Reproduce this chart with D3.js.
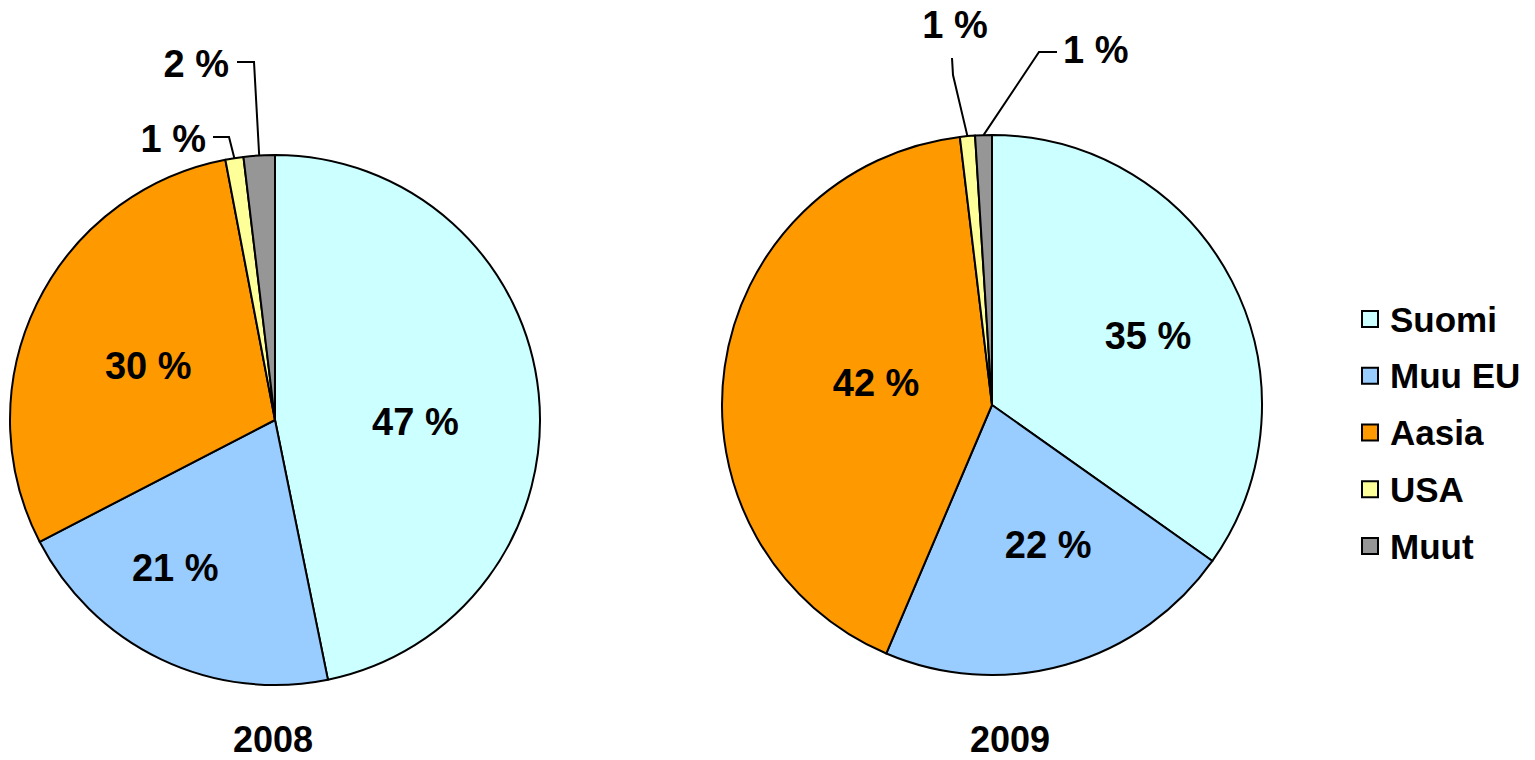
<!DOCTYPE html>
<html lang="fi">
  <head>
    <meta charset="UTF-8" />
    <title>Pie 2008 / 2009</title>
    <style>
      body { margin: 0; background: #fff; }
      text { font-family: Arial, "Liberation Sans", sans-serif; font-weight: bold; fill: #000; }
    </style>
    <script src="https://d3js.org/d3.v7.min.js"></script>
  </head>
  <body>
    <svg width="1535" height="760"></svg>
    <script>
      var categories = ["Suomi", "Muu EU", "Aasia", "USA", "Muut"];
      var colors = ["#CCFFFF", "#99CCFF", "#FF9900", "#FFFF99", "#969696"];
      var values2008 = [46.8, 20.6, 29.6, 1.1, 1.9];
      var values2009 = [34.8, 21.6, 41.7, 0.9, 1.0];
      var years = ["2008", "2009"];

      var svg = d3.select("svg");

      var pies = [
        { year: years[0], values: values2008, cx: 275, cy: 420, r: 265, titleX: 273,
          // inside labels: [radius fraction, angle nudge in degrees]
          inside: [[0.53, 6.6], [0.674, 8.4], [0.52, -2.9]],
          // leader lines for the thin slices: [elbow, end], text pos, anchor
          outside: {
            3: { pts: [[-46, -283], [-62, -283]], tx: -69, ty: -268, anchor: "end" },
            4: { pts: [[-21, -358], [-38, -358]], tx: -46, ty: -343, anchor: "end" }
          } },
        { year: years[1], values: values2009, cx: 992, cy: 405, r: 270, titleX: 1010,
          inside: [[0.632, 3.5], [0.559, -6], [0.437, 2.6]],
          outside: {
            3: { pts: [[-39, -330], [-40, -347]], tx: -37, ty: -367, anchor: "middle" },
            4: { pts: [[47, -353], [65, -353]], tx: 71, ty: -342, anchor: "start" }
          } }
      ];

      var pie = d3.pie().sort(null).value((d) => d);

      pies.forEach(function (p) {
        var g = svg.append("g").attr("transform", "translate(" + p.cx + "," + p.cy + ")");
        var arcs = pie(p.values);
        var arc = d3.arc().innerRadius(0).outerRadius(p.r);

        g.selectAll("path")
          .data(arcs)
          .join("path")
          .attr("d", arc)
          .attr("fill", (d, i) => colors[i])
          .attr("stroke", "#000")
          .attr("stroke-width", 2)
          .attr("stroke-linejoin", "round");

        arcs.forEach(function (a, i) {
          var txt = Math.round(a.data) + " %";
          var mid = (a.startAngle + a.endAngle) / 2;
          var o = p.outside[i];
          if (o) {
            var start = [Math.sin(mid) * p.r, -Math.cos(mid) * p.r];
            g.append("path")
              .attr("d", d3.line()([start].concat(o.pts)))
              .attr("fill", "none")
              .attr("stroke", "#000")
              .attr("stroke-width", 2);
            g.append("text")
              .attr("x", o.tx)
              .attr("y", o.ty)
              .attr("text-anchor", o.anchor)
              .attr("font-size", 38)
              .text(txt);
          } else {
            var lr = p.inside[i][0] * p.r;
            var la = mid + (p.inside[i][1] * Math.PI) / 180;
            g.append("text")
              .attr("x", Math.sin(la) * lr)
              .attr("y", -Math.cos(la) * lr)
              .attr("dy", "0.35em")
              .attr("text-anchor", "middle")
              .attr("font-size", 38)
              .text(txt);
          }
        });

        svg.append("text")
          .attr("x", p.titleX)
          .attr("y", 752)
          .attr("text-anchor", "middle")
          .attr("font-size", 36)
          .text(p.year);
      });

      // legend
      var legY = d3.scalePoint().domain(categories).range([319, 546]);
      var leg = svg.append("g").selectAll("g")
        .data(categories)
        .join("g")
        .attr("transform", (d) => "translate(1362," + legY(d) + ")");
      leg.append("rect")
        .attr("x", 0)
        .attr("y", -8)
        .attr("width", 16)
        .attr("height", 16)
        .attr("fill", (d, i) => colors[i])
        .attr("stroke", "#000")
        .attr("stroke-width", 2);
      leg.append("text")
        .attr("x", 28)
        .attr("dy", "0.36em")
        .attr("font-size", 35)
        .text((d) => d);
    </script>
  </body>
</html>
